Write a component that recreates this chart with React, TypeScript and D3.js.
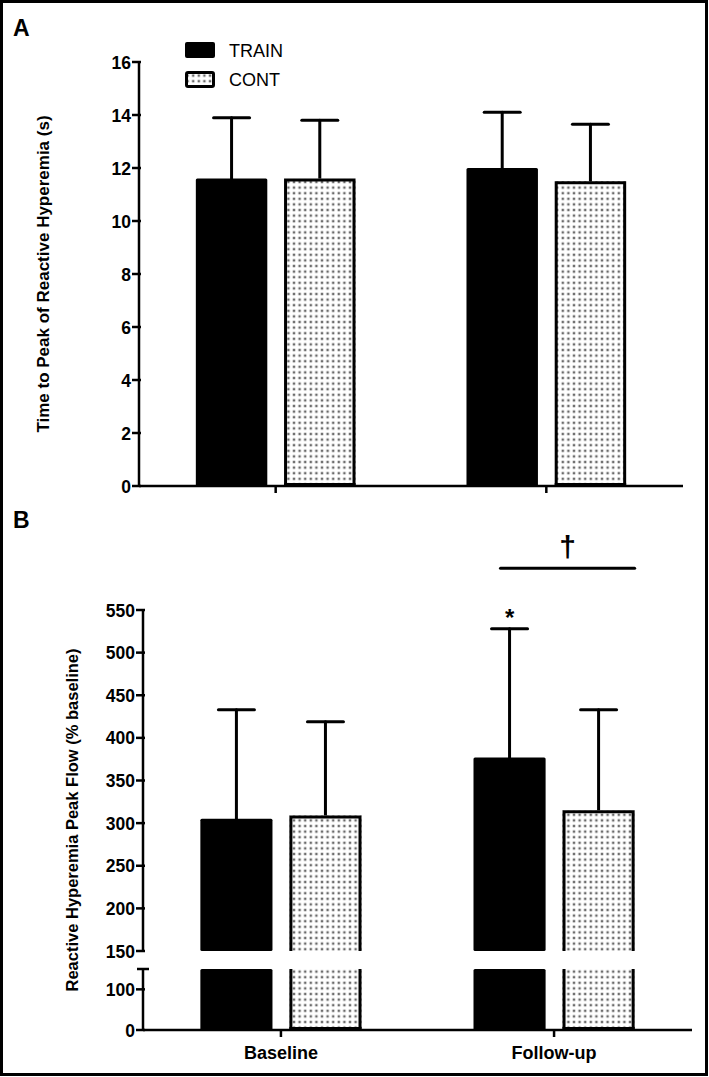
import React from "react";
import * as d3 from "d3";

const groups = ["Baseline", "Follow-up"];
const series = ["TRAIN", "CONT"];
// Panel A: time to peak (s)
const aMeans = [[11.6, 11.6], [12.0, 11.5]];
const aTops = [[13.9, 13.8], [14.1, 13.65]];
const aTicks = [0, 2, 4, 6, 8, 10, 12, 14, 16];
// Panel B: peak flow (% baseline)
const bMeans = [[305, 309], [377, 315]];
const bTops = [[433, 419], [528, 433]];
const bTicksUpper = [150, 200, 250, 300, 350, 400, 450, 500, 550];
const bTicksLower = [0, 100];

const FONT = "'Liberation Sans', Arial, sans-serif";

function Bar({ x, w, yTop, yBot, s, topBorder = true, bottomBorder = true }: any) {
  if (s === 0) {
    return <rect x={x} y={yTop} width={w} height={yBot - yTop} fill="#000" rx={1.5} />;
  }
  const h = 1.5;
  return (
    <g>
      <rect x={x} y={yTop} width={w} height={yBot - yTop} fill="url(#dots)" />
      <path
        d={`M${x + h},${yBot}V${yTop + (topBorder ? h : 0)}${topBorder ? `H${x + w - h}` : `M${x + w - h},${yTop}`}V${yBot}`}
        fill="none"
        stroke="#000"
        strokeWidth={3}
      />
      {bottomBorder && <line x1={x} x2={x + w} y1={yBot - h} y2={yBot - h} stroke="#000" strokeWidth={3} />}
    </g>
  );
}

function ErrBar({ cx, y0, y1 }: any) {
  return (
    <g stroke="#000" strokeWidth={3} strokeLinecap="round">
      <line x1={cx} x2={cx} y1={y0} y2={y1} />
      <line x1={cx - 18} x2={cx + 18} y1={y1} y2={y1} />
    </g>
  );
}

export default function App() {
  const xA = d3.scaleBand().domain(groups).range([139, 683]).paddingInner(0.41).paddingOuter(0.21);
  const xAi = d3.scaleBand().domain(series).range([0, xA.bandwidth()]).paddingInner(0.19);
  const yA = d3.scaleLinear().domain([0, 16]).range([486, 62]);

  const xB = d3.scaleBand().domain(groups).range([143, 692]).paddingInner(0.41).paddingOuter(0.21);
  const xBi = d3.scaleBand().domain(series).range([0, xB.bandwidth()]).paddingInner(0.19);
  const yBu = d3.scaleLinear().domain([150, 550]).range([951, 610]);
  const yBl = d3.scaleLinear().domain([0, 150]).range([1030, 969]);

  const tickFont = { fontFamily: FONT, fontWeight: 700, fontSize: 17.5 } as any;

  return (
    <svg
      width={709}
      height={1077}
      style={{ position: "absolute", left: 0, top: 0, display: "block", background: "#fff" }}
    >
      <defs>
        <pattern id="dots" patternUnits="userSpaceOnUse" width={5.6} height={5.6}>
          <rect width={5.6} height={5.6} fill="#fff" />
          <rect x={1.6} y={1.6} width={2.4} height={2.4} fill="#6a6a6a" />
        </pattern>
      </defs>
      <rect x={1.5} y={1.5} width={705} height={1073} fill="#fff" stroke="#000" strokeWidth={3} />

      {/* ---------- Panel A ---------- */}
      <text x={13} y={36} style={{ fontFamily: FONT, fontWeight: 700, fontSize: 23 }}>A</text>
      <text
        transform={`translate(49,${yA(8)}) rotate(-90)`}
        textAnchor="middle"
        style={{ fontFamily: FONT, fontWeight: 700, fontSize: 17 }}
      >
        Time to Peak of Reactive Hyperemia (s)
      </text>
      <rect x={185} y={42} width={30} height={16} rx={2} fill="#000" />
      <rect x={186.5} y={72.5} width={27} height={14} fill="url(#dots)" stroke="#000" strokeWidth={3} rx={1.5} />
      <text x={229} y={57} style={{ fontFamily: FONT, fontSize: 18 }}>TRAIN</text>
      <text x={229} y={86} style={{ fontFamily: FONT, fontSize: 18 }}>CONT</text>

      {groups.map((g, gi) =>
        series.map((s, si) => {
          const x = (xA(g) as number) + (xAi(s) as number);
          const w = xAi.bandwidth();
          return (
            <g key={`a${gi}${si}`}>
              <ErrBar cx={x + w / 2} y0={yA(aMeans[gi][si])} y1={yA(aTops[gi][si])} />
              <Bar x={x} w={w} yTop={yA(aMeans[gi][si])} yBot={yA(0)} s={si} />
            </g>
          );
        })
      )}
      <g stroke="#000" strokeWidth={2.5}>
        <line x1={139} x2={139} y1={yA(16) - 1} y2={yA(0) + 1} />
        <line x1={139} x2={683} y1={yA(0)} y2={yA(0)} />
        {aTicks.map((t) => (
          <line key={t} x1={132} x2={141} y1={yA(t)} y2={yA(t)} />
        ))}
        {groups.map((g) => {
          const cx = (xA(g) as number) + xA.bandwidth() / 2;
          return <line key={g} x1={cx} x2={cx} y1={yA(0)} y2={yA(0) + 7} />;
        })}
      </g>
      {aTicks.map((t) => (
        <text key={t} x={131} y={yA(t) + 6.5} textAnchor="end" style={tickFont}>
          {t}
        </text>
      ))}

      {/* ---------- Panel B ---------- */}
      <text x={13} y={528} style={{ fontFamily: FONT, fontWeight: 700, fontSize: 23 }}>B</text>
      <text
        transform={`translate(78,${(610 + 1030) / 2}) rotate(-90)`}
        textAnchor="middle"
        style={{ fontFamily: FONT, fontWeight: 700, fontSize: 16.5 }}
      >
        Reactive Hyperemia Peak Flow (% baseline)
      </text>

      {groups.map((g, gi) =>
        series.map((s, si) => {
          const x = (xB(g) as number) + (xBi(s) as number);
          const w = xBi.bandwidth();
          return (
            <g key={`b${gi}${si}`}>
              <ErrBar cx={x + w / 2} y0={yBu(bMeans[gi][si])} y1={yBu(bTops[gi][si])} />
              <Bar x={x} w={w} yTop={yBu(bMeans[gi][si])} yBot={yBu(150)} s={si} bottomBorder={false} />
              <Bar x={x} w={w} yTop={yBl(150)} yBot={yBl(0)} s={si} topBorder={false} />
            </g>
          );
        })
      )}
      <g stroke="#000" strokeWidth={2.5}>
        <line x1={143} x2={143} y1={yBu(550) - 1} y2={yBu(150)} />
        <line x1={143} x2={143} y1={yBl(150)} y2={yBl(0) + 1} />
        <line x1={137} x2={149} y1={yBl(150)} y2={yBl(150)} />
        <line x1={143} x2={692} y1={yBl(0)} y2={yBl(0)} />
        {bTicksUpper.map((t) => (
          <line key={`u${t}`} x1={136} x2={145} y1={yBu(t)} y2={yBu(t)} />
        ))}
        {bTicksLower.map((t) => (
          <line key={`l${t}`} x1={136} x2={145} y1={yBl(t)} y2={yBl(t)} />
        ))}
        {groups.map((g) => {
          const cx = (xB(g) as number) + xB.bandwidth() / 2;
          return <line key={g} x1={cx} x2={cx} y1={yBl(0)} y2={yBl(0) + 7} />;
        })}
      </g>
      {bTicksUpper.map((t) => (
        <text key={`u${t}`} x={135} y={yBu(t) + 6.5} textAnchor="end" style={tickFont}>
          {t}
        </text>
      ))}
      {bTicksLower.map((t) => (
        <text key={`l${t}`} x={135} y={yBl(t) + 6.5} textAnchor="end" style={tickFont}>
          {t}
        </text>
      ))}
      {groups.map((g) => (
        <text
          key={g}
          x={(xB(g) as number) + xB.bandwidth() / 2}
          y={1059}
          textAnchor="middle"
          style={{ fontFamily: FONT, fontWeight: 700, fontSize: 18 }}
        >
          {g}
        </text>
      ))}

      {(() => {
        const x1 = (xB("Follow-up") as number) + (xBi("TRAIN") as number) + 27;
        const x2 = (xB("Follow-up") as number) + (xBi("CONT") as number) + xBi.bandwidth();
        const cxT = (xB("Follow-up") as number) + (xBi("TRAIN") as number) + xBi.bandwidth() / 2;
        const ySig = yBu(599);
        return (
          <g>
            <line x1={x1} x2={x2} y1={ySig} y2={ySig} stroke="#000" strokeWidth={3} strokeLinecap="round" />
            <text x={(x1 + x2) / 2} y={ySig - 11} textAnchor="middle" style={{ fontFamily: FONT, fontWeight: 700, fontSize: 30 }}>
              †
            </text>
            <text x={cxT} y={yBu(bTops[1][0]) - 3} textAnchor="middle" style={{ fontFamily: FONT, fontWeight: 700, fontSize: 24 }}>
              *
            </text>
          </g>
        );
      })()}
    </svg>
  );
}
